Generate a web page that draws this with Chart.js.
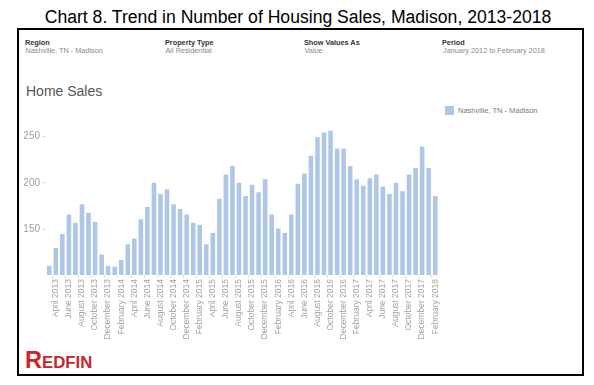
<!DOCTYPE html>
<html>
<head>
<meta charset="utf-8">
<script src="https://cdn.jsdelivr.net/npm/chart.js@4/dist/chart.umd.min.js"></script>
<style>
  html, body { margin: 0; padding: 0; background: #fff; }
  body { width: 594px; height: 385px; position: relative; overflow: hidden; font-family: "Liberation Sans", Arial, sans-serif; }
  .title { position: absolute; left: 0; width: 596px; top: 9px; text-align: center; font-size: 17.6px; line-height: 17.6px; color: #000; }
  .frame { position: absolute; left: 17px; top: 28px; width: 567px; height: 348px; border: 2px solid #000; box-sizing: border-box; }
  .hd { position: absolute; font-size: 7.3px; line-height: 8px; white-space: nowrap; }
  .hd b { color: #333; }
  .hd span { color: #8a8a8a; }
  .home { position: absolute; left: 26px; top: 84px; font-size: 14px; line-height: 14px; color: #555; }
  .legend { position: absolute; left: 445px; top: 106px; font-size: 7.5px; line-height: 9px; color: #7a7a7a; white-space: nowrap; }
  .legend i { display: inline-block; width: 9px; height: 9px; vertical-align: top; margin-right: 4px; }
  .logo { position: absolute; left: 25px; top: 349px; font-weight: bold; color: #c9252c; line-height: 22px; }
  #chart-wrap { position: absolute; left: 17px; top: 118px; width: 430px; height: 230px; }
</style>
</head>
<body>
<div class="title">Chart 8. Trend in Number of Housing Sales, Madison, 2013-2018</div>
<div class="frame"></div>

<div class="hd" style="left:25px; top:38.5px"><b>Region</b></div>
<div class="hd" style="left:25.5px; top:46.5px"><span>Nashville, TN - Madison</span></div>
<div class="hd" style="left:165px; top:38.5px"><b>Property Type</b></div>
<div class="hd" style="left:165.5px; top:46.5px"><span>All Residential</span></div>
<div class="hd" style="left:304px; top:38.5px"><b>Show Values As</b></div>
<div class="hd" style="left:304.5px; top:46.5px"><span>Value</span></div>
<div class="hd" style="left:442px; top:38.5px"><b>Period</b></div>
<div class="hd" style="left:443px; top:46.5px"><span>January 2012 to February 2018</span></div>

<div class="home">Home Sales</div>
<div class="legend" id="legend"></div>
<div class="logo"><span style="font-size:23.5px">R</span><span style="font-size:16.8px">EDFIN</span></div>

<div id="chart-wrap"><canvas id="chart-sales"></canvas></div>

<script>
// monthly home sales, March 2013 - February 2018
const months = [
  "March 2013", "April 2013", "May 2013", "June 2013", "July 2013", "August 2013",
  "September 2013", "October 2013", "November 2013", "December 2013", "January 2014", "February 2014",
  "March 2014", "April 2014", "May 2014", "June 2014", "July 2014", "August 2014",
  "September 2014", "October 2014", "November 2014", "December 2014", "January 2015", "February 2015",
  "March 2015", "April 2015", "May 2015", "June 2015", "July 2015", "August 2015",
  "September 2015", "October 2015", "November 2015", "December 2015", "January 2016", "February 2016",
  "March 2016", "April 2016", "May 2016", "June 2016", "July 2016", "August 2016",
  "September 2016", "October 2016", "November 2016", "December 2016", "January 2017", "February 2017",
  "March 2017", "April 2017", "May 2017", "June 2017", "July 2017", "August 2017",
  "September 2017", "October 2017", "November 2017", "December 2017", "January 2018", "February 2018"
];

const sales = [
  111, 130, 145, 166, 157, 177, 168, 158, 123, 111, 110, 117,
  134, 140, 161, 174, 200, 188, 193, 177, 172, 166, 157, 155,
  134, 146, 183, 209, 218, 200, 186, 198, 190, 204, 166, 151,
  146, 166, 199, 210, 229, 249, 254, 256, 237, 237, 218, 204,
  197, 205, 209, 196, 188, 200, 191, 209, 216, 239, 216, 186
];

const yTicks = [150, 200, 250];
const seriesName = "Nashville, TN - Madison";
const barColor = "#aec7e8";

const legend = document.getElementById("legend");
legend.innerHTML = `<i style="background:${barColor}"></i>${seriesName}`;

new Chart(document.getElementById("chart-sales"), {
  type: "bar",
  data: {
    labels: months,
    datasets: [{
      label: seriesName,
      data: sales,
      backgroundColor: barColor,
      borderWidth: 0,
      categoryPercentage: 1,
      barPercentage: 0.7,
    }],
  },
  options: {
    responsive: true,
    maintainAspectRatio: false,
    animation: false,
    layout: { padding: { top: 7.6, right: 8.5, left: 0, bottom: 0 } },
    plugins: { legend: { display: false }, tooltip: { enabled: false } },
    scales: {
      x: {
        border: { display: false },
        grid: {
          drawOnChartArea: false,
          drawTicks: true,
          tickLength: 3,
          color: (c) => (c.index % 2 === 1 ? "#dddddd" : "rgba(0,0,0,0)"),
        },
        ticks: {
          autoSkip: false,
          minRotation: 90,
          maxRotation: 90,
          padding: 1,
          color: "#a3a3a3",
          font: { family: "Liberation Sans", size: 8.5 },
          callback: (v, i) => (i % 2 === 1 ? months[i] : ""),
        },
        afterFit: (s) => { s.height = 73; },
      },
      y: {
        min: 101,
        max: 260,
        border: { display: false },
        grid: { drawOnChartArea: false, drawTicks: true, tickLength: 3, color: "#d5d5d5" },
        ticks: { padding: 3, color: "#9e9e9e", font: { family: "Liberation Sans", size: 10 } },
        afterBuildTicks: (s) => { s.ticks = yTicks.map((v) => ({ value: v })); },
        afterFit: (s) => { s.width = 29; },
      },
    },
  },
});
</script>
</body>
</html>
